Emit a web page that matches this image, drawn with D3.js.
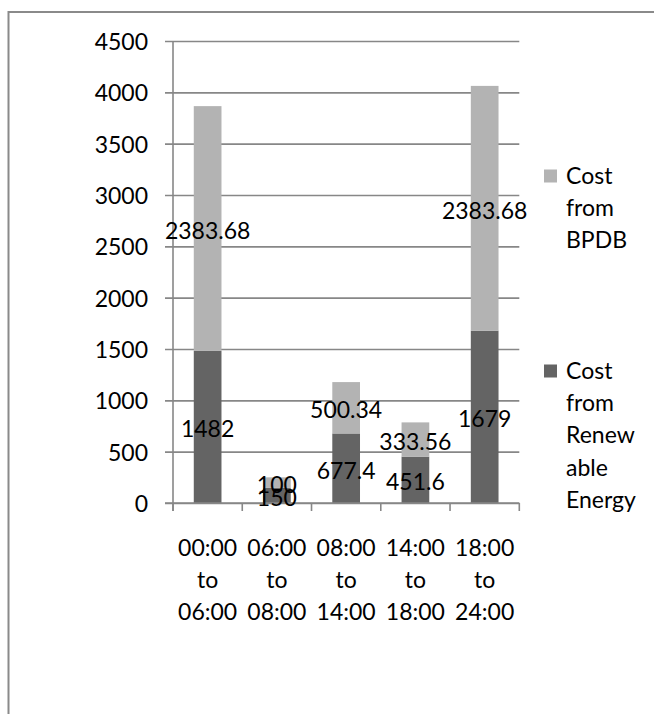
<!DOCTYPE html>
<html>
<head>
<meta charset="utf-8">
<script src="https://cdn.jsdelivr.net/npm/d3@7"></script>
<style>
  html, body { margin: 0; padding: 0; background: #fff; }
  svg { display: block; }
  text { font-family: Lato, "Liberation Sans", sans-serif; fill: #000; }
</style>
</head>
<body>
<svg id="chart" width="654" height="714"></svg>
<script>
// Time-of-day slots (each label is broken into three lines)
const categories = ["00:00 to 06:00", "06:00 to 08:00", "08:00 to 14:00", "14:00 to 18:00", "18:00 to 24:00"];
// Stacked series, bottom to top
const renewableCost = [1482, 150, 677.4, 451.6, 1679];
const bpdbCost = [2383.68, 100, 500.34, 333.56, 2383.68];
const seriesNames = ["Cost from Renewable Energy", "Cost from BPDB"];
const legendLines = [["Cost", "from", "BPDB"], ["Cost", "from", "Renew", "able", "Energy"]];
const yTicks = [0, 500, 1000, 1500, 2000, 2500, 3000, 3500, 4000, 4500];

const colors = { renew: "#646464", bpdb: "#b3b3b3", grid: "#878787", frame: "#8a8a8a" };
const fontSize = 23;

const svg = d3.select("#chart");

// Outer chart frame (runs off the right and bottom edges)
svg.append("rect")
  .attr("x", 8.5).attr("y", 12)
  .attr("width", 700).attr("height", 760)
  .attr("fill", "none")
  .attr("stroke", colors.frame)
  .attr("stroke-width", 2);

const plot = { left: 173, right: 519.3, top: 41, bottom: 503 };

const y = d3.scaleLinear().domain([0, 4500]).range([plot.bottom, plot.top]);
const x = d3.scaleBand()
  .domain(categories)
  .range([plot.left, plot.right])
  .paddingInner(0.6)
  .paddingOuter(0.3);
const slot = x.step();
const slotStart = d => x(d) - slot * 0.3;

// Horizontal gridlines with outward tick stubs
const yAxis = d3.axisLeft(y).tickValues(yTicks).tickSize(-(plot.right - plot.left)).tickFormat("");
const gy = svg.append("g").attr("transform", `translate(${plot.left},0)`).call(yAxis);
gy.select(".domain").remove();
gy.selectAll(".tick line")
  .attr("x1", -8)
  .attr("stroke", colors.grid)
  .attr("stroke-width", 1.6);

// Vertical axis line
svg.append("line")
  .attr("x1", plot.left).attr("x2", plot.left)
  .attr("y1", y(4500)).attr("y2", y(0) + 8)
  .attr("stroke", colors.grid).attr("stroke-width", 1.6);

// Y tick labels
svg.append("g").selectAll("text")
  .data(yTicks)
  .join("text")
  .attr("x", 148)
  .attr("y", d => y(d) + 9)
  .attr("text-anchor", "end")
  .attr("font-size", fontSize)
  .text(d => d);

// Stack the two series
const rows = categories.map((c, i) => ({ cat: c, renew: renewableCost[i], bpdb: bpdbCost[i] }));
const stacked = d3.stack().keys(["renew", "bpdb"])(rows);

const gBars = svg.append("g");
stacked.forEach(layer => {
  gBars.append("g")
    .attr("fill", colors[layer.key])
    .selectAll("rect")
    .data(layer)
    .join("rect")
    .attr("x", d => x(d.data.cat))
    .attr("width", x.bandwidth())
    .attr("y", d => y(d[1]))
    .attr("height", d => y(d[0]) - y(d[1]));
});

// X axis baseline and category separators
svg.append("line")
  .attr("x1", plot.left - 8).attr("x2", plot.right)
  .attr("y1", y(0)).attr("y2", y(0))
  .attr("stroke", colors.grid).attr("stroke-width", 1.6);
const boundaries = categories.map(slotStart).concat([plot.right]);
svg.append("g").selectAll("line")
  .data(boundaries)
  .join("line")
  .attr("x1", d => d).attr("x2", d => d)
  .attr("y1", y(0)).attr("y2", y(0) + 8)
  .attr("stroke", colors.grid).attr("stroke-width", 1.6);

// Value labels centred in each segment
stacked.forEach(layer => {
  svg.append("g").selectAll("text")
    .data(layer)
    .join("text")
    .attr("x", d => x(d.data.cat) + x.bandwidth() / 2)
    .attr("y", d => (y(d[0]) + y(d[1])) / 2 + 10.5)
    .attr("text-anchor", "middle")
    .attr("font-size", fontSize)
    .text(d => d.data[layer.key]);
});

// Category labels, three lines each
const gx = svg.append("g");
categories.forEach(c => {
  const t = gx.append("text")
    .attr("text-anchor", "middle")
    .attr("font-size", fontSize);
  c.split(" ").forEach((part, k) => {
    t.append("tspan")
      .attr("x", x(c) + x.bandwidth() / 2)
      .attr("y", 556 + k * 32)
      .text(part);
  });
});

// Legend (top entry is the upper stack layer)
const legendItems = [
  { color: colors.bpdb, lines: legendLines[0], top: 183.5 },
  { color: colors.renew, lines: legendLines[1], top: 378.5 }
];
const gl = svg.append("g");
legendItems.forEach(item => {
  gl.append("rect")
    .attr("x", 544).attr("y", item.top - 14)
    .attr("width", 13).attr("height", 13)
    .attr("fill", item.color);
  const t = gl.append("text").attr("font-size", fontSize);
  item.lines.forEach((ln, k) => {
    t.append("tspan").attr("x", 566).attr("y", item.top + k * 32.4).text(ln);
  });
});
</script>
</body>
</html>
